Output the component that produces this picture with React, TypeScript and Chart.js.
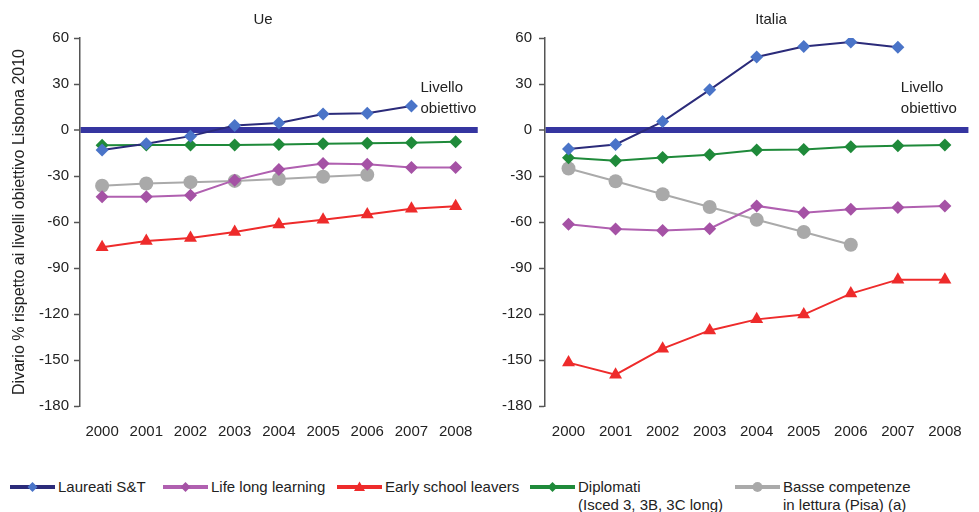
import React, { useEffect, useRef } from 'react';
import { Chart, registerables } from 'chart.js';

Chart.register(...registerables);

// ---------- data ----------
const years = ['2000', '2001', '2002', '2003', '2004', '2005', '2006', '2007', '2008'];

const seriesNames = ['Laureati S&T', 'Life long learning', 'Early school leavers', 'Diplomati', 'Basse competenze'];
const seriesNotes = ['', '', '', '(Isced 3, 3B, 3C long)', 'in lettura (Pisa) (a)'];

const ueLaureati = [-13, -9, -4, 3, 4.5, 10.5, 11, 15.7, null];
const ueLifeLong = [-43.6, -43.6, -42.5, -32.7, -25.7, -21.8, -22.3, -24.4, -24.4];
const ueEarly = [-76.4, -72.4, -70.5, -66.5, -61.7, -58.5, -55.1, -51.3, -49.7];
const ueDiplomati = [-10, -9.8, -9.8, -9.8, -9.4, -9, -8.7, -8.3, -7.6];
const ueBasse = [-36.4, -34.9, -34, -33.2, -32, -30.5, -29.2, null, null];

const itLaureati = [-12.4, -9.4, 5.5, 26.2, 47.6, 54.5, 57.4, 53.9, null];
const itLifeLong = [-61.5, -64.6, -65.5, -64.4, -49.5, -53.9, -51.7, -50.6, -49.5];
const itEarly = [-151.7, -159.6, -142.6, -130.7, -123.5, -120.4, -106.7, -97.6, -97.6];
const itDiplomati = [-18.1, -20, -17.9, -16.1, -13.1, -12.7, -10.9, -10.3, -9.8];
const itBasse = [-25.1, -33.4, -41.9, -50.2, -58.5, -66.5, -74.8, null, null];

const yMin = -180;
const yMax = 60;
const yStep = 30;
const targetLabel = ['Livello', 'obiettivo'];
const yTitle = 'Divario % rispetto ai livelli obiettivo Lisbona 2010';

// ---------- styles / layout ----------
const FONT = '"Liberation Sans", Arial, sans-serif';
const CANVAS_H = 463;
const legendLeft = [10, 163, 337, 530, 735];

const seriesStyle = [
  { line: '#2B2B7A', point: '#4A74C8', shape: 'rectRot', r: 6.5 },
  { line: '#B060B0', point: '#A552A5', shape: 'rectRot', r: 6.5 },
  { line: '#EE2B2B', point: '#EE2B2B', shape: 'triangle', r: 7.5 },
  { line: '#1F8A3A', point: '#1F8A3A', shape: 'rectRot', r: 6.5 },
  { line: '#AAAAAA', point: '#A9A9A9', shape: 'circle', r: 7 },
];

function makeDatasets(values: (number | null)[][]) {
  return values.map((data, i) => {
    const s = seriesStyle[i];
    return {
      label: seriesNames[i],
      data,
      borderColor: s.line,
      backgroundColor: s.point,
      pointBackgroundColor: s.point,
      pointBorderColor: s.point,
      pointBorderWidth: 0,
      pointStyle: s.shape as any,
      pointRadius: s.r,
      borderWidth: 2,
      tension: 0,
      spanGaps: false,
    };
  });
}

function textPlugin(title: string, titleX: number, labelOffset: number) {
  return {
    id: 'panelTexts',
    afterDraw(chart: any) {
      const { ctx } = chart;
      const xs = chart.scales.x;
      const ys = chart.scales.y;
      ctx.save();
      ctx.fillStyle = '#222';
      ctx.font = `15px ${FONT}`;
      ctx.textAlign = 'center';
      ctx.textBaseline = 'middle';
      ctx.fillText(title, titleX, 20);
      ctx.textAlign = 'left';
      const lx = xs.getPixelForValue(7) + labelOffset;
      const y0 = ys.getPixelForValue(0);
      ctx.fillText(targetLabel[0], lx, y0 - 42);
      ctx.fillText(targetLabel[1], lx, y0 - 21);
      ctx.restore();
    },
  };
}

function makeConfig(values: (number | null)[][], title: string, titleX: number, labelOffset: number, axisWidth: number, padRight: number, showTitle: boolean, tickPad: number): any {
  return {
    type: 'line',
    data: { labels: years, datasets: makeDatasets(values) },
    options: {
      animation: false,
      responsive: false,
      layout: { padding: { top: 38, right: padRight, bottom: 5, left: 0 } },
      plugins: { legend: { display: false }, title: { display: false }, tooltip: { enabled: false } },
      scales: {
        x: {
          type: 'category',
          offset: true,
          grid: { display: false, drawTicks: false },
          border: { display: false },
          ticks: { color: '#222', font: { family: FONT, size: 15 }, padding: 17, maxRotation: 0, autoSkip: false },
        },
        y: {
          min: yMin,
          max: yMax,
          afterFit: (scale: any) => { scale.width = axisWidth; },
          ticks: { stepSize: yStep, color: '#222', font: { family: FONT, size: 15 }, padding: tickPad },
          border: { display: true, color: '#555', width: 1.5 },
          grid: {
            drawOnChartArea: true,
            color: (c: any) => (c.tick && c.tick.value === 0 ? '#3535A0' : 'rgba(0,0,0,0)'),
            lineWidth: (c: any) => (c.tick && c.tick.value === 0 ? 6 : 1),
            tickColor: '#555',
            tickWidth: 1.5,
            tickLength: 6,
          },
          title: {
            display: showTitle,
            text: yTitle,
            color: '#222',
            font: { family: FONT, size: 16 },
            padding: { top: 10, bottom: 0 },
          },
        },
      },
    },
    plugins: [textPlugin(title, titleX, labelOffset)],
  };
}

function Panel({ values, title, titleX, labelOffset, axisWidth, padRight, showTitle, tickPad, left, width }: any) {
  const ref = useRef<HTMLCanvasElement | null>(null);
  useEffect(() => {
    if (!ref.current) return;
    const chart = new Chart(ref.current, makeConfig(values, title, titleX, labelOffset, axisWidth, padRight, showTitle, tickPad));
    return () => chart.destroy();
  }, []);
  return (
    <canvas
      ref={ref}
      width={width}
      height={CANVAS_H}
      style={{ position: 'absolute', left, top: 0, width, height: CANVAS_H }}
    />
  );
}

function LegendMarker({ i }: { i: number }) {
  const s = seriesStyle[i];
  const cx = 22.5;
  const cy = 6;
  let shape: React.ReactNode;
  if (s.shape === 'rectRot') {
    shape = <polygon points={`${cx},${cy - 5} ${cx + 5},${cy} ${cx},${cy + 5} ${cx - 5},${cy}`} fill={s.point} />;
  } else if (s.shape === 'triangle') {
    shape = <polygon points={`${cx},${cy - 5.5} ${cx + 5.5},${cy + 4} ${cx - 5.5},${cy + 4}`} fill={s.point} />;
  } else {
    shape = <circle cx={cx} cy={cy} r={5} fill={s.point} />;
  }
  return (
    <svg width={45} height={12} style={{ flex: 'none', marginTop: 3 }}>
      <line x1={0} y1={cy} x2={45} y2={cy} stroke={s.line} strokeWidth={4} />
      {shape}
    </svg>
  );
}

function Legend() {
  return (
    <div style={{ position: 'absolute', left: 0, top: 478, fontFamily: FONT, fontSize: 15, color: '#222', lineHeight: '18px', whiteSpace: 'nowrap' }}>
      {seriesNames.map((n, i) => (
        <div key={n} style={{ position: 'absolute', left: legendLeft[i], top: 0, display: 'flex', alignItems: 'flex-start', gap: 3 }}>
          <LegendMarker i={i} />
          <div>
            <div>{n}</div>
            {seriesNotes[i] ? <div>{seriesNotes[i]}</div> : null}
          </div>
        </div>
      ))}
    </div>
  );
}

export default function App() {
  return (
    <div style={{ position: 'fixed', left: 0, top: 0, width: 979, height: 512, background: '#fff', overflow: 'hidden' }}>
      <Panel
        values={[ueLaureati, ueLifeLong, ueEarly, ueDiplomati, ueBasse]}
        title="Ue"
        titleX={263}
        labelOffset={9}
        axisWidth={80}
        padRight={12}
        showTitle={true}
        tickPad={5}
        left={0}
        width={490}
      />
      <Panel
        values={[itLaureati, itLifeLong, itEarly, itDiplomati, itBasse]}
        title="Italia"
        titleX={281}
        labelOffset={3}
        axisWidth={55}
        padRight={0}
        showTitle={false}
        tickPad={7}
        left={490}
        width={489}
      />
      <Legend />
    </div>
  );
}
